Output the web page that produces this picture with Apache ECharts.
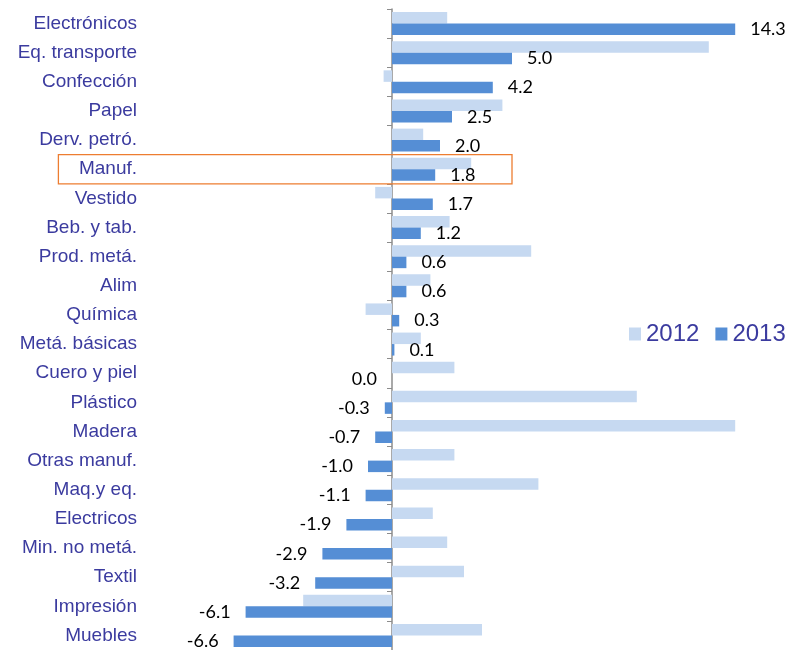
<!DOCTYPE html>
<html>
<head>
<meta charset="utf-8">
<script src="https://cdn.jsdelivr.net/npm/echarts@6/dist/echarts.min.js"></script>
<style>
  html, body { margin: 0; padding: 0; background: #fff; }
  #chart { width: 794px; height: 650px; }
</style>
</head>
<body>
<div id="chart"></div>
<script>
// categorias (de arriba hacia abajo)
var categorias = ['Electrónicos', 'Eq. transporte', 'Confección', 'Papel', 'Derv. petró.', 'Manuf.',
  'Vestido', 'Beb. y tab.', 'Prod. metá.', 'Alim', 'Química', 'Metá. básicas', 'Cuero y piel',
  'Plástico', 'Madera', 'Otras manuf.', 'Maq.y eq.', 'Electricos', 'Min. no metá.', 'Textil',
  'Impresión', 'Muebles'];
var valores2012 = [2.3, 13.2, -0.35, 4.6, 1.3, 3.3, -0.7, 2.4, 5.8, 1.6, -1.1, 1.2, 2.6,
  10.2, 14.3, 2.6, 6.1, 1.7, 2.3, 3.0, -3.7, 3.75];
var valores2013 = [14.3, 5.0, 4.2, 2.5, 2.0, 1.8, 1.7, 1.2, 0.6, 0.6, 0.3, 0.1, 0.0,
  -0.3, -0.7, -1.0, -1.1, -1.9, -2.9, -3.2, -6.1, -6.6];
var resaltado = 'Manuf.';

var azulTexto = '#3B3B9F';
var myChart = echarts.init(document.getElementById('chart'));

var datos2013 = valores2013.map(function (v) {
  return { value: v, label: { position: v > 0 ? 'right' : 'left' } };
});

myChart.setOption({
  animation: false,
  grid: { left: 152, right: 18, top: 9, bottom: -5 },
  legend: {
    data: ['2012', '2013'],
    left: 629,
    top: 322,
    padding: 0,
    itemWidth: 12,
    itemHeight: 13,
    itemGap: 16,
    icon: 'rect',
    textStyle: { fontFamily: 'Liberation Sans', fontSize: 24, color: azulTexto }
  },
  xAxis: {
    type: 'value',
    min: -10,
    max: 16,
    show: false
  },
  yAxis: [{
    type: 'category',
    data: categorias,
    inverse: true,
    axisLine: { show: false, onZero: false },
    axisTick: { show: false },
    axisLabel: { fontFamily: 'Liberation Sans', fontSize: 19, color: azulTexto, margin: 15 }
  }, {
    type: 'category',
    data: categorias,
    inverse: true,
    position: 'left',
    axisLine: { show: true, onZero: true, lineStyle: { color: '#8C8C8C', width: 1.5 } },
    axisTick: { show: true, length: 5, lineStyle: { color: '#8C8C8C' } },
    axisLabel: { show: false }
  }],
  series: [{
    name: '2012',
    type: 'bar',
    data: valores2012,
    barWidth: 11.5,
    barGap: '0%',
    itemStyle: { color: '#C6D9F1' }
  }, {
    name: '2013',
    type: 'bar',
    data: datos2013,
    barWidth: 11.5,
    barGap: '0%',
    itemStyle: { color: '#558ED5' },
    label: {
      show: true,
      distance: 15,
      fontFamily: 'Lato',
      fontSize: 18,
      color: '#000',
      formatter: function (p) { return p.value.toFixed(1); }
    }
  }]
});

// recuadro naranja alrededor de la fila resaltada
var centro = myChart.convertToPixel({ xAxisIndex: 0, yAxisIndex: 0 }, [-13.9, resaltado]);
var derecha = myChart.convertToPixel({ xAxisIndex: 0, yAxisIndex: 0 }, [5, resaltado]);
var banda = 646 / categorias.length;
myChart.setOption({
  graphic: [{
    type: 'rect',
    shape: { x: centro[0], y: centro[1] - banda / 2, width: derecha[0] - centro[0], height: banda },
    style: { fill: 'none', stroke: '#ED7D31', lineWidth: 1.3 },
    z: 10
  }]
});

window.onresize = function () {
  myChart.resize();
};
</script>
</body>
</html>
